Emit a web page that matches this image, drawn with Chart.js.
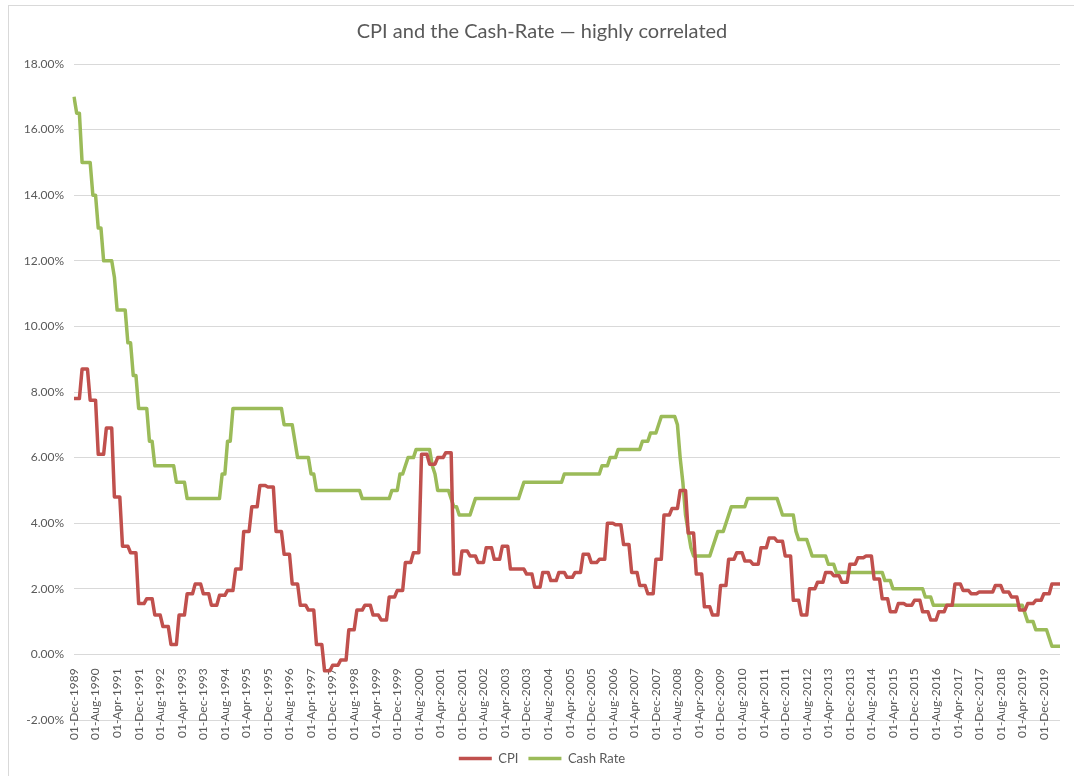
<!DOCTYPE html>
<html>
<head>
<meta charset="utf-8">
<script src="https://cdn.jsdelivr.net/npm/chart.js"></script>
<style>
  html, body { margin: 0; padding: 0; background: #fff; }
  #wrap { width: 1074px; height: 776px; position: relative; }
</style>
</head>
<body>
<div id="wrap"><canvas id="cpiChart"></canvas></div>
<script>
/* ========= DATA (monthly, 01-Dec-1989 .. 01-Jun-2020) ========= */

const monthNames = ["Jan", "Feb", "Mar", "Apr", "May", "Jun", "Jul", "Aug", "Sep", "Oct", "Nov", "Dec"];
const startYear = 1989;
const startMonth = 11;   // December
const labelEvery = 8;    // a date label every 8 months

const yTickValues = [-2, 0, 2, 4, 6, 8, 10, 12, 14, 16, 18];

// CPI, annual % change (quarterly figure held for three months)
const cpi = [
  7.8,
  7.8, 7.8, 8.7, 8.7, 8.7, 7.75, 7.75, 7.75, 6.1, 6.1, 6.1, 6.9,          // 1990
  6.9, 6.9, 4.8, 4.8, 4.8, 3.3, 3.3, 3.3, 3.1, 3.1, 3.1, 1.55,           // 1991
  1.55, 1.55, 1.7, 1.7, 1.7, 1.2, 1.2, 1.2, 0.85, 0.85, 0.85, 0.3,       // 1992
  0.3, 0.3, 1.2, 1.2, 1.2, 1.85, 1.85, 1.85, 2.15, 2.15, 2.15, 1.85,     // 1993
  1.85, 1.85, 1.5, 1.5, 1.5, 1.8, 1.8, 1.8, 1.95, 1.95, 1.95, 2.6,       // 1994
  2.6, 2.6, 3.75, 3.75, 3.75, 4.5, 4.5, 4.5, 5.15, 5.15, 5.15, 5.1,      // 1995
  5.1, 5.1, 3.75, 3.75, 3.75, 3.05, 3.05, 3.05, 2.15, 2.15, 2.15, 1.5,   // 1996
  1.5, 1.5, 1.35, 1.35, 1.35, 0.3, 0.3, 0.3, -0.5, -0.5, -0.5, -0.33,    // 1997
  -0.33, -0.33, -0.17, -0.17, -0.17, 0.75, 0.75, 0.75, 1.35, 1.35, 1.35, 1.5, // 1998
  1.5, 1.5, 1.2, 1.2, 1.2, 1.05, 1.05, 1.05, 1.75, 1.75, 1.75, 1.95,     // 1999
  1.95, 1.95, 2.8, 2.8, 2.8, 3.1, 3.1, 3.1, 6.1, 6.1, 6.1, 5.8,          // 2000
  5.8, 5.8, 6.0, 6.0, 6.0, 6.15, 6.15, 6.15, 2.45, 2.45, 2.45, 3.15,     // 2001
  3.15, 3.15, 3.0, 3.0, 3.0, 2.8, 2.8, 2.8, 3.25, 3.25, 3.25, 2.9,       // 2002
  2.9, 2.9, 3.3, 3.3, 3.3, 2.6, 2.6, 2.6, 2.6, 2.6, 2.6, 2.45,           // 2003
  2.45, 2.45, 2.05, 2.05, 2.05, 2.5, 2.5, 2.5, 2.25, 2.25, 2.25, 2.5,    // 2004
  2.5, 2.5, 2.35, 2.35, 2.35, 2.5, 2.5, 2.5, 3.05, 3.05, 3.05, 2.8,      // 2005
  2.8, 2.8, 2.9, 2.9, 2.9, 4.0, 4.0, 4.0, 3.95, 3.95, 3.95, 3.35,        // 2006
  3.35, 3.35, 2.5, 2.5, 2.5, 2.1, 2.1, 2.1, 1.85, 1.85, 1.85, 2.9,       // 2007
  2.9, 2.9, 4.25, 4.25, 4.25, 4.45, 4.45, 4.45, 5.0, 5.0, 5.0, 3.7,      // 2008
  3.7, 3.7, 2.45, 2.45, 2.45, 1.45, 1.45, 1.45, 1.2, 1.2, 1.2, 2.1,      // 2009
  2.1, 2.1, 2.9, 2.9, 2.9, 3.1, 3.1, 3.1, 2.85, 2.85, 2.85, 2.75,        // 2010
  2.75, 2.75, 3.25, 3.25, 3.25, 3.55, 3.55, 3.55, 3.45, 3.45, 3.45, 3.0, // 2011
  3.0, 3.0, 1.65, 1.65, 1.65, 1.2, 1.2, 1.2, 2.0, 2.0, 2.0, 2.2,         // 2012
  2.2, 2.2, 2.5, 2.5, 2.5, 2.4, 2.4, 2.4, 2.2, 2.2, 2.2, 2.75,           // 2013
  2.75, 2.75, 2.95, 2.95, 2.95, 3.0, 3.0, 3.0, 2.3, 2.3, 2.3, 1.7,       // 2014
  1.7, 1.7, 1.3, 1.3, 1.3, 1.55, 1.55, 1.55, 1.5, 1.5, 1.5, 1.65,        // 2015
  1.65, 1.65, 1.3, 1.3, 1.3, 1.05, 1.05, 1.05, 1.3, 1.3, 1.3, 1.5,       // 2016
  1.5, 1.5, 2.15, 2.15, 2.15, 1.95, 1.95, 1.95, 1.85, 1.85, 1.85, 1.9,   // 2017
  1.9, 1.9, 1.9, 1.9, 1.9, 2.1, 2.1, 2.1, 1.9, 1.9, 1.9, 1.75,           // 2018
  1.75, 1.75, 1.35, 1.35, 1.35, 1.55, 1.55, 1.55, 1.65, 1.65, 1.65, 1.85, // 2019
  1.85, 1.85, 2.15, 2.15, 2.15, 2.15                                     // 2020
];

// RBA cash rate, %
const cashRate = [
  17.0,
  16.5, 16.5, 15.0, 15.0, 15.0, 15.0, 14.0, 14.0, 13.0, 13.0, 12.0, 12.0,  // 1990
  12.0, 12.0, 11.5, 10.5, 10.5, 10.5, 10.5, 9.5, 9.5, 8.5, 8.5, 7.5,       // 1991
  7.5, 7.5, 7.5, 6.5, 6.5, 5.75, 5.75, 5.75, 5.75, 5.75, 5.75, 5.75,       // 1992
  5.75, 5.25, 5.25, 5.25, 5.25, 4.75, 4.75, 4.75, 4.75, 4.75, 4.75, 4.75,  // 1993
  4.75, 4.75, 4.75, 4.75, 4.75, 4.75, 5.5, 5.5, 6.5, 6.5, 7.5, 7.5,        // 1994
  7.5, 7.5, 7.5, 7.5, 7.5, 7.5, 7.5, 7.5, 7.5, 7.5, 7.5, 7.5,              // 1995
  7.5, 7.5, 7.5, 7.5, 7.5, 7.0, 7.0, 7.0, 7.0, 6.5, 6.0, 6.0,              // 1996
  6.0, 6.0, 6.0, 5.5, 5.5, 5.0, 5.0, 5.0, 5.0, 5.0, 5.0, 5.0,              // 1997
  5.0, 5.0, 5.0, 5.0, 5.0, 5.0, 5.0, 5.0, 5.0, 5.0, 4.75, 4.75,            // 1998
  4.75, 4.75, 4.75, 4.75, 4.75, 4.75, 4.75, 4.75, 4.75, 5.0, 5.0, 5.0,     // 1999
  5.5, 5.5, 5.75, 6.0, 6.0, 6.0, 6.25, 6.25, 6.25, 6.25, 6.25, 6.25,       // 2000
  5.75, 5.5, 5.0, 5.0, 5.0, 5.0, 5.0, 4.75, 4.5, 4.5, 4.25, 4.25,          // 2001
  4.25, 4.25, 4.25, 4.5, 4.75, 4.75, 4.75, 4.75, 4.75, 4.75, 4.75, 4.75,   // 2002
  4.75, 4.75, 4.75, 4.75, 4.75, 4.75, 4.75, 4.75, 4.75, 5.0, 5.25, 5.25,   // 2003
  5.25, 5.25, 5.25, 5.25, 5.25, 5.25, 5.25, 5.25, 5.25, 5.25, 5.25, 5.25,  // 2004
  5.25, 5.5, 5.5, 5.5, 5.5, 5.5, 5.5, 5.5, 5.5, 5.5, 5.5, 5.5,             // 2005
  5.5, 5.5, 5.5, 5.75, 5.75, 5.75, 6.0, 6.0, 6.0, 6.25, 6.25, 6.25,        // 2006
  6.25, 6.25, 6.25, 6.25, 6.25, 6.25, 6.5, 6.5, 6.5, 6.75, 6.75, 6.75,     // 2007
  7.0, 7.25, 7.25, 7.25, 7.25, 7.25, 7.25, 7.0, 6.0, 5.25, 4.25, 3.75,     // 2008
  3.25, 3.0, 3.0, 3.0, 3.0, 3.0, 3.0, 3.0, 3.25, 3.5, 3.75, 3.75,          // 2009
  3.75, 4.0, 4.25, 4.5, 4.5, 4.5, 4.5, 4.5, 4.5, 4.75, 4.75, 4.75,         // 2010
  4.75, 4.75, 4.75, 4.75, 4.75, 4.75, 4.75, 4.75, 4.75, 4.5, 4.25, 4.25,   // 2011
  4.25, 4.25, 4.25, 3.75, 3.5, 3.5, 3.5, 3.5, 3.25, 3.0, 3.0, 3.0,         // 2012
  3.0, 3.0, 3.0, 2.75, 2.75, 2.75, 2.5, 2.5, 2.5, 2.5, 2.5, 2.5,           // 2013
  2.5, 2.5, 2.5, 2.5, 2.5, 2.5, 2.5, 2.5, 2.5, 2.5, 2.5, 2.5,              // 2014
  2.25, 2.25, 2.25, 2.0, 2.0, 2.0, 2.0, 2.0, 2.0, 2.0, 2.0, 2.0,           // 2015
  2.0, 2.0, 2.0, 1.75, 1.75, 1.75, 1.5, 1.5, 1.5, 1.5, 1.5, 1.5,           // 2016
  1.5, 1.5, 1.5, 1.5, 1.5, 1.5, 1.5, 1.5, 1.5, 1.5, 1.5, 1.5,              // 2017
  1.5, 1.5, 1.5, 1.5, 1.5, 1.5, 1.5, 1.5, 1.5, 1.5, 1.5, 1.5,              // 2018
  1.5, 1.5, 1.5, 1.5, 1.25, 1.0, 1.0, 1.0, 0.75, 0.75, 0.75, 0.75,         // 2019
  0.75, 0.5, 0.25, 0.25, 0.25, 0.25                                        // 2020
];

// category labels: 01-Mon-YYYY for every month
const labels = cpi.map((_, i) => {
  const m = (startMonth + i) % 12;
  const y = startYear + Math.floor((startMonth + i) / 12);
  return "01-" + monthNames[m] + "-" + y;
});


/* ========= CHART ========= */

Chart.defaults.font.family = "Lato, 'Open Sans', sans-serif";
Chart.defaults.color = "#595959";

// white background + light chart-area frame like the spreadsheet export
const framePlugin = {
  id: "frame",
  beforeDraw(chart) {
    const c = chart.ctx;
    c.save();
    c.fillStyle = "#ffffff";
    c.fillRect(0, 0, chart.width, chart.height);
    c.strokeStyle = "#d9d9d9";
    c.lineWidth = 1;
    c.strokeRect(8.5, 5.5, chart.width + 20, chart.height + 20);
    c.restore();
  }
};

const ctx = document.getElementById("cpiChart");

new Chart(ctx, {
  type: "line",
  data: {
    labels: labels,
    datasets: [{
      label: "CPI",
      data: cpi,
      borderColor: "#c0504d",
      backgroundColor: "#c0504d",
      borderWidth: 3.5,
      pointRadius: 0,
      tension: 0,
      borderJoinStyle: "round"
    }, {
      label: "Cash Rate",
      data: cashRate,
      borderColor: "#9bbb59",
      backgroundColor: "#9bbb59",
      borderWidth: 3.5,
      pointRadius: 0,
      tension: 0,
      borderJoinStyle: "round"
    }]
  },
  options: {
    responsive: true,
    maintainAspectRatio: false,
    animation: false,
    layout: { padding: { left: 10, right: 0, top: 0, bottom: 1 } },
    plugins: {
      title: {
        display: true,
        text: "CPI and the Cash-Rate \u2014 highly correlated",
        color: "#595959",
        font: { size: 20, weight: "normal" },
        padding: { top: 20, bottom: 20 }
      },
      legend: {
        position: "bottom",
        labels: {
          usePointStyle: true,
          pointStyle: "line",
          pointStyleWidth: 33,
          padding: 10,
          color: "#595959",
          font: { size: 13 }
        }
      },
      tooltip: { enabled: false }
    },
    scales: {
      x: {
        position: { y: 0 },
        grid: { display: false },
        border: { display: false },
        ticks: {
          autoSkip: false,
          minRotation: 90,
          maxRotation: 90,
          padding: 6,
          font: { size: 12 },
          callback: (v, i) => (i % labelEvery === 0 ? labels[i] : null)
        }
      },
      y: {
        min: -2,
        max: 18,
        afterFit: (s) => { s.width = 64; },
        afterBuildTicks: (s) => { s.ticks = yTickValues.map(v => ({ value: v })); },
        grid: { color: "#d9d9d9", drawTicks: false },
        border: { display: false },
        ticks: {
          padding: 10,
          font: { size: 12 },
          callback: (v) => v.toFixed(2) + "%"
        }
      },
      // empty bands that keep room around the plot (right edge, above the legend)
      rightGap: {
        type: "linear",
        axis: "y",
        position: "right",
        grid: { display: false },
        border: { display: false },
        ticks: { display: false },
        afterFit: (s) => { s.width = 14; }
      },
      gap: {
        type: "category",
        axis: "x",
        position: "bottom",
        grid: { display: false },
        border: { display: false },
        ticks: { display: false },
        afterFit: (s) => { s.height = 22; }
      }
    }
  },
  plugins: [framePlugin]
});
</script>
</body>
</html>
